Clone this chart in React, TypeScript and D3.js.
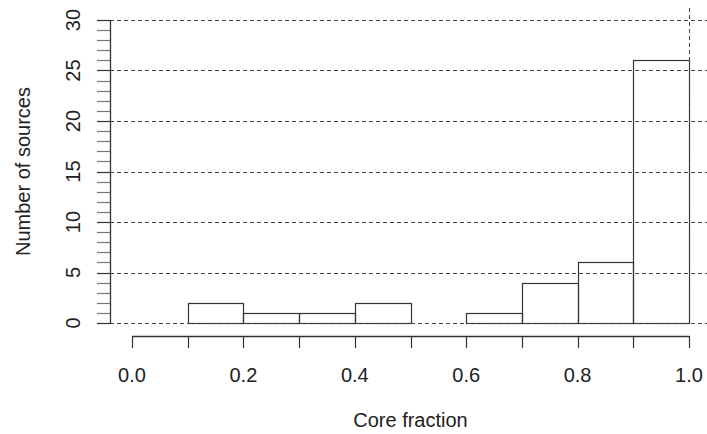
import React from "react";
import * as d3 from "d3";

const binStarts = [0.1, 0.2, 0.3, 0.4, 0.5, 0.6, 0.7, 0.8, 0.9];
const binCounts = [2, 1, 1, 2, 0, 1, 4, 6, 26];
const binWidth = 0.1;
const xTickValues = [0, 0.1, 0.2, 0.3, 0.4, 0.5, 0.6, 0.7, 0.8, 0.9, 1.0];
const xLabelValues = [0, 0.2, 0.4, 0.6, 0.8, 1.0];
const yMajor = [0, 5, 10, 15, 20, 25, 30];
const yMinor = d3.range(0, 31);

const W = 707;
const H = 434;
const FONT = "'Liberation Sans', Arial, Helvetica, sans-serif";

export default function App() {
  const x = d3.scaleLinear().domain([0, 1]).range([132, 689]);
  const y = d3.scaleLinear().domain([0, 30]).range([323, 20]);
  const axisY = 336;
  const axisX = 110;
  const dash = "4,3";
  const gridColor = "#444";
  const axisColor = "#333";

  return (
    <svg
      width={W}
      height={H}
      style={{ position: "absolute", left: 0, top: 0, background: "#fff" }}
      fontFamily={FONT}
    >
      <rect x={0} y={0} width={W} height={H} fill="#fff" />
      {/* bars */}
      {binStarts.map((s, i) => (
        <rect
          key={"b" + i}
          x={Math.round(x(s)) + 0.5}
          y={Math.round(y(binCounts[i])) + 0.5}
          width={Math.round(x(s + binWidth)) - Math.round(x(s))}
          height={Math.round(y(0)) - Math.round(y(binCounts[i]))}
          fill="none"
          stroke={axisColor}
          strokeWidth={1.2}
        />
      ))}
      {/* horizontal grid */}
      {yMajor.map((v) => (
        <line
          key={"g" + v}
          x1={axisX}
          x2={W}
          y1={Math.round(y(v)) + 0.5}
          y2={Math.round(y(v)) + 0.5}
          stroke={gridColor}
          strokeWidth={1}
          strokeDasharray={dash}
        />
      ))}
      {/* vertical line at 1.0 */}
      <line
        x1={Math.round(x(1)) + 0.5}
        x2={Math.round(x(1)) + 0.5}
        y1={8}
        y2={y(0)}
        stroke={gridColor}
        strokeWidth={1}
        strokeDasharray={dash}
      />
      {/* y axis */}
      <line x1={axisX + 0.5} x2={axisX + 0.5} y1={y(30)} y2={y(0) + 0.5} stroke={axisColor} strokeWidth={1.3} />
      {yMinor.map((v) => (
        <line
          key={"yt" + v}
          x1={97}
          x2={axisX}
          y1={Math.round(y(v)) + 0.5}
          y2={Math.round(y(v)) + 0.5}
          stroke={v % 5 === 0 ? axisColor : "#777"}
          strokeWidth={1.2}
        />
      ))}
      {yMajor.map((v) => (
        <text
          key={"yl" + v}
          transform={`translate(80,${y(v)}) rotate(-90)`}
          textAnchor="middle"
          fontSize={20}
          fill="#222"
        >
          {v}
        </text>
      ))}
      {/* x axis */}
      <line x1={x(0)} x2={x(1) + 0.5} y1={axisY + 0.5} y2={axisY + 0.5} stroke={axisColor} strokeWidth={1.3} />
      {xTickValues.map((v) => (
        <line
          key={"xt" + v}
          x1={Math.round(x(v)) + 0.5}
          x2={Math.round(x(v)) + 0.5}
          y1={axisY}
          y2={348}
          stroke={axisColor}
          strokeWidth={1.2}
        />
      ))}
      {xLabelValues.map((v) => (
        <text key={"xl" + v} x={x(v)} y={382} textAnchor="middle" fontSize={20} fill="#222">
          {d3.format(".1f")(v)}
        </text>
      ))}
      <text x={(x(0) + x(1)) / 2} y={427} textAnchor="middle" fontSize={20} fill="#222">
        Core fraction
      </text>
      <text
        transform={`translate(30,${(y(0) + y(30)) / 2}) rotate(-90)`}
        textAnchor="middle"
        fontSize={20}
        fill="#222"
      >
        Number of sources
      </text>
    </svg>
  );
}
